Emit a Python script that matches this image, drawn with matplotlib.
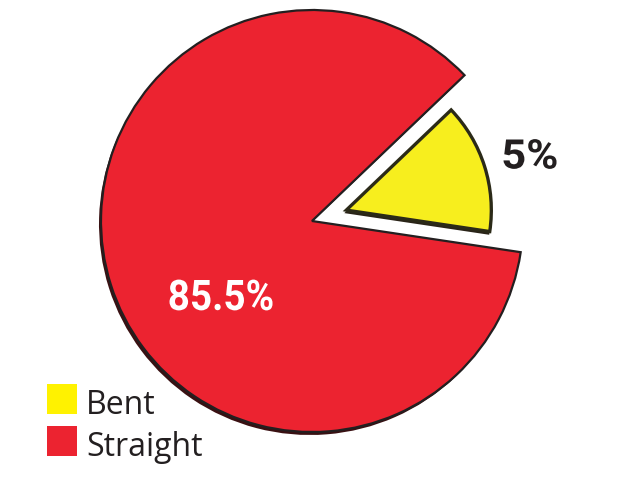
import matplotlib.pyplot as plt
from matplotlib.patches import Rectangle, PathPatch
from matplotlib.textpath import TextPath
from matplotlib.font_manager import FontProperties
from matplotlib.transforms import Affine2D

# data
categories = ['Bent', 'Straight']
shares = [14.5, 85.5]          # visual size of the slices
pct_labels = ['5%', '85.5%']   # text printed on the chart
colors = ['#f7ee1e', '#ec2330']
legend_colors = ['#fff200', '#ec2330']

fig = plt.figure(figsize=(6.2, 4.79), dpi=100)
ax = fig.add_axes([0, 0, 1, 1])

cx, cy, r = 312, 258, 211
explode = [36, 0]   # pie() takes explode in data units here

# soft shadow under the pie
shadow, _ = ax.pie(shares, radius=r, center=(cx - 2, cy - 3), startangle=-8.5,
                   explode=explode, colors=['#2a2418', '#3a1012'],
                   wedgeprops=dict(linewidth=0), frame=True)
shadow[0].set_radius(146.5)

wedges, _ = ax.pie(shares, radius=r, center=(cx, cy), startangle=-8.5,
                   explode=explode, colors=colors, frame=True,
                   wedgeprops=dict(edgecolor='#231f20', linewidth=1.6))
wedges[0].set_radius(145)
wedges[0].set_edgecolor('#2b2a18')
wedges[0].set_linewidth(2.4)

ax.set_xlim(0, 620)
ax.set_ylim(0, 479)
ax.set_aspect('equal')
ax.axis('off')


def condensed_text(s, x, y, cap, width, color):
    # bold condensed label: squeeze a bold glyph path sideways
    fp = FontProperties(family='Roboto', weight='bold')
    tp = TextPath((0, 0), s, size=cap / 0.711, prop=fp)
    bb = tp.get_extents()
    sx = width / bb.width
    tr = (Affine2D().translate(-bb.x0 - bb.width / 2, 0)
          .scale(sx, 1).translate(x, y - cap / 2))
    ax.add_patch(PathPatch(tr.transform_path(tp), facecolor=color, edgecolor='none'))


condensed_text(pct_labels[0], 530, 325, 29, 53, '#231f20')
condensed_text(pct_labels[1], 221, 184, 30, 103, 'white')

# legend
for i, (name, c) in enumerate(zip(categories, legend_colors)):
    top = 384 + i * 42
    ax.add_patch(Rectangle((47, 479 - top - 30), 30, 30, facecolor=c, edgecolor='none'))
    ax.text(86, 479 - top - 30, name, color='#231f20', fontsize=23,
            family='Open Sans', ha='left', va='baseline')

fig.savefig('out.png', dpi=100)
